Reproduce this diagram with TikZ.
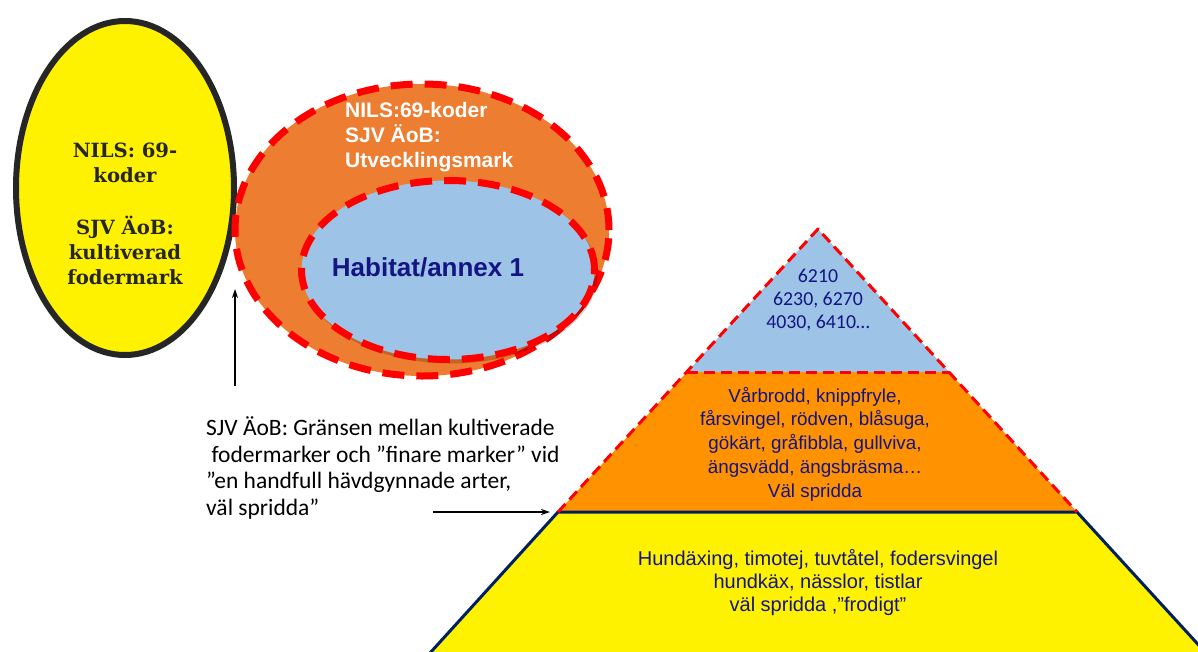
\documentclass[tikz,border=0pt]{standalone}
\usepackage{fontspec}
\setmainfont{Carlito}
\newfontfamily\arial{Liberation Sans}
\newfontfamily\slab{DejaVu Serif}
\usetikzlibrary{shapes.geometric,arrows.meta,shadows}
\definecolor{ellorange}{RGB}{237,125,49}
\definecolor{pyrorange}{RGB}{255,146,0}
\definecolor{lblue}{RGB}{157,195,230}
\definecolor{navytxt}{RGB}{20,20,130}
\definecolor{navyline}{RGB}{0,32,96}
\definecolor{darktxt}{RGB}{38,38,38}
\begin{document}
\begin{tikzpicture}[x=1pt,y=-1pt,
  yellowell/.style={ellipse,draw=black!85,fill=yellow,line width=6pt,minimum width=218pt,minimum height=334pt,inner sep=0pt},
  orangeell/.style={ellipse,draw=red,fill=ellorange,line width=7pt,dash pattern=on 22pt off 12pt,minimum width=374pt,minimum height=292pt,inner sep=0pt},
  blueell/.style={ellipse,draw=red,fill=lblue,line width=7pt,dash pattern=on 22pt off 12pt,minimum width=293pt,minimum height=179pt,inner sep=0pt,
     drop shadow={shadow xshift=3pt,shadow yshift=-4pt,fill=black,opacity=0.18}},
  reddash/.style={draw=red,line width=3pt,dash pattern=on 11pt off 6pt},
  arr/.style={-{Stealth[length=9pt,width=6pt]},line width=1.3pt,black},
  txt/.style={inner sep=0pt,align=center}
]
\useasboundingbox (0,0) rectangle (1198,651);
\fill[white] (0,0) rectangle (1198,651);
\begin{scope}
\clip (0,0) rectangle (1198,651);
% left ellipse
\node[yellowell] (fod) at (125,188) {};
\node[txt,text=darktxt,font={\slab\bfseries\fontsize{19.6}{25}\selectfont}] (fodtxt) at (125,214)
  {NILS: 69-\\koder\\[27pt]SJV ÄoB:\\kultiverad\\fodermark};
% orange ellipse
\node[orangeell] (utv) at (422,230) {};
\node[txt,anchor=west,align=left,text=white,font={\arial\bfseries\fontsize{21}{25}\selectfont}] (utvtxt) at (345,137)
  {NILS:69-koder\\SJV ÄoB:\\Utvecklingsmark};
% blue ellipse
\node[blueell] (hab) at (448,270) {};
\node[txt,text=navytxt,font={\arial\bfseries\fontsize{26}{28}\selectfont}] (habtxt) at (428,267) {Habitat/annex 1};
% pyramid
\coordinate (A) at (818,229);
\coordinate (TL) at (687,372);
\coordinate (TR) at (949,372);
\coordinate (ML) at (558,512);
\coordinate (MR) at (1077,512);
\coordinate (BL) at (420,664);
\coordinate (BR) at (1216,664);
\fill[lblue] (A)--(TL)--(TR)--cycle;
\fill[pyrorange] (TL)--(ML)--(MR)--(TR)--cycle;
\fill[yellow] (ML)--(BL)--(BR)--(MR)--cycle;
\draw[navyline,line width=3pt,line join=miter] (BL)--(ML)--(MR)--(BR);
\draw[reddash,line join=round] (ML)--(A)--(MR);
\draw[reddash] (TL)--(TR);
\node[txt,text=navytxt,font={\fontsize{19.8}{23}\selectfont}] (codes) at (818,300)
  {6210\\6230, 6270\\4030, 6410…};
\node[txt,text=navytxt,font={\arial\fontsize{18.8}{23.7}\selectfont}] (species) at (815,444)
  {Vårbrodd, knippfryle,\\fårsvingel, rödven, blåsuga,\\gökärt, gråfibbla, gullviva,\\ängsvädd, ängsbräsma…\\Väl spridda};
\node[txt,text=navytxt,font={\arial\fontsize{20}{23}\selectfont}] (common) at (818,583)
  {Hundäxing, timotej, tuvtåtel, fodersvingel\\hundkäx, nässlor, tistlar\\väl spridda ,”frodigt”};
% annotation
\node[txt,anchor=west,align=left,text=black,font={\fontsize{23.5}{26.6}\selectfont}] (note) at (206,468)
  {SJV ÄoB: Gränsen mellan kultiverade\\\ fodermarker och ”finare marker” vid\\”en handfull hävdgynnade arter,\\väl spridda”};
\coordinate (v0) at (235,386);
\coordinate (v1) at (235,289);
\draw[arr] (v0) -- (v1);
\coordinate (h0) at (433,512);
\draw[arr,shorten >=8pt] (h0) -- (ML);
\end{scope}
\end{tikzpicture}
\end{document}
